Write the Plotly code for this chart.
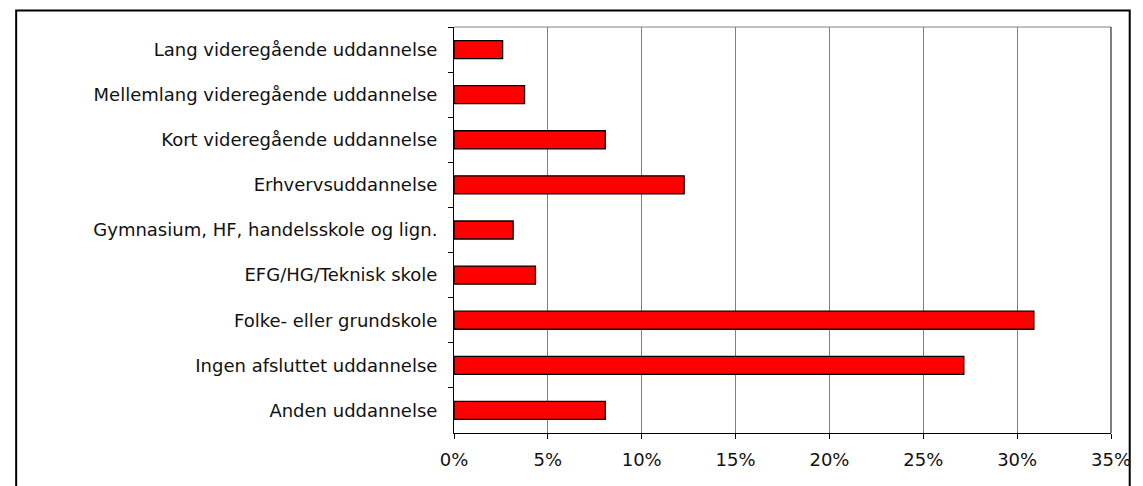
import plotly.graph_objects as go

categories = [
    "Lang videregående uddannelse",
    "Mellemlang videregående uddannelse",
    "Kort videregående uddannelse",
    "Erhvervsuddannelse",
    "Gymnasium, HF, handelsskole og lign.",
    "EFG/HG/Teknisk skole",
    "Folke- eller grundskole",
    "Ingen afsluttet uddannelse",
    "Anden uddannelse",
]
values = [2.59, 3.76, 8.06, 12.26, 3.15, 4.34, 30.89, 27.16, 8.06]
x_ticks = [0, 5, 10, 15, 20, 25, 30, 35]
x_tick_labels = ["0%", "5%", "10%", "15%", "20%", "25%", "30%", "35%"]

W, H = 1143, 486
L, T = 454, 27
R = W - 1121
B = H - 433
pw, ph = W - L - R, H - T - B

def px_to_paper_x(px):
    return (px - L) / pw

def px_to_paper_y(py):
    return (H - B - py) / ph

FONT = "DejaVu Sans"

fig = go.Figure(go.Bar(
    x=values, y=categories, orientation="h",
    marker=dict(color="#FF0000", line=dict(color="black", width=1.3)),
    width=0.4,
))

fig.update_layout(
    width=W, height=H,
    margin=dict(l=L, r=R, t=T, b=B),
    paper_bgcolor="white", plot_bgcolor="white",
    showlegend=False,
    font=dict(family=FONT, size=18, color="#111111"),
    bargap=0.6,
    xaxis=dict(
        range=[0, 35], tickvals=x_ticks, ticktext=x_tick_labels,
        showgrid=True, gridcolor="#808080", gridwidth=1,
        showline=True, linecolor="black", linewidth=1,
        ticks="outside", ticklen=5, tickcolor="black",
        zeroline=False, fixedrange=True,
        ticklabelstandoff=5,
    ),
    yaxis=dict(
        autorange="reversed", type="category",
        showline=True, linecolor="black", linewidth=1,
        ticks="outside", ticklen=5, tickcolor="black",
        tickson="boundaries", showgrid=False,
        ticklabelstandoff=12,
    ),
    shapes=[
        dict(type="line", xref="paper", yref="paper", x0=0, x1=1, y0=1, y1=1,
             line=dict(color="#808080", width=1)),
        dict(type="line", xref="paper", yref="paper", x0=1, x1=1, y0=0, y1=1,
             line=dict(color="black", width=1)),
        dict(type="rect", xref="paper", yref="paper",
             x0=px_to_paper_x(9.5), x1=px_to_paper_x(1140), y0=px_to_paper_y(10.5), y1=px_to_paper_y(495),
             line=dict(color="black", width=2), layer="below"),
    ],
)

fig.write_html(
    "out.html",
    config={"displayModeBar": False},
    post_script="document.body.style.margin='0';document.body.style.overflow='hidden';",
)
